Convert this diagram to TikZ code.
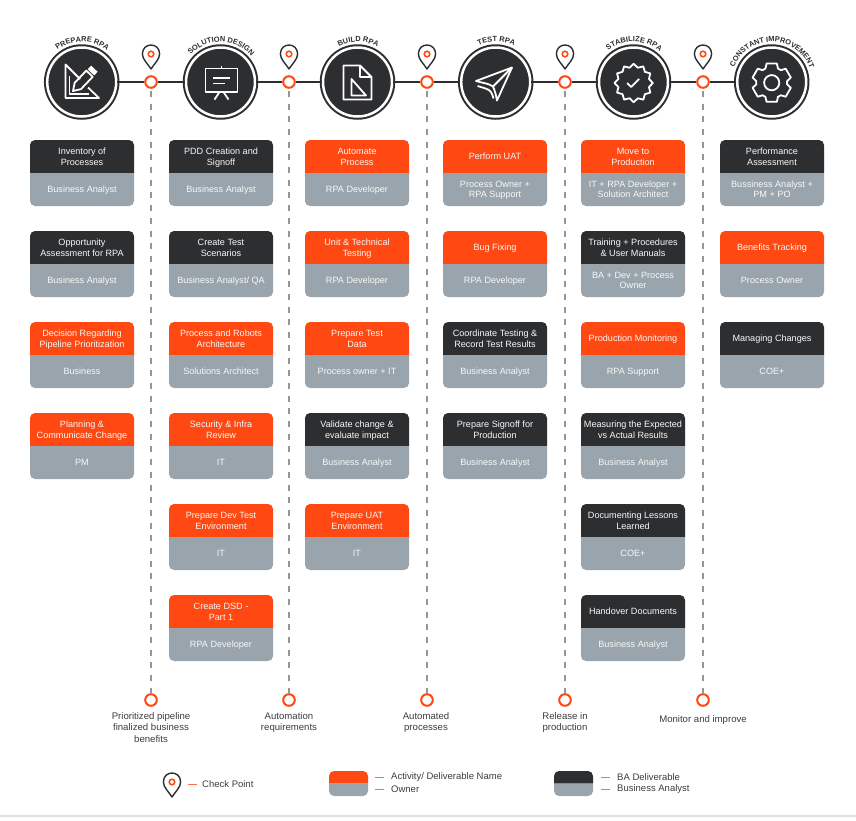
\documentclass[tikz,border=0pt]{standalone}
\usepackage{fontspec}
\setmainfont{Liberation Sans}
\usepackage{xcolor}
\usetikzlibrary{positioning,decorations.text}
\definecolor{darkbox}{RGB}{45, 46, 48}
\definecolor{accent}{RGB}{255, 72, 18}
\definecolor{ownerbox}{RGB}{153, 164, 172}
\definecolor{inktext}{RGB}{60, 60, 62}
\definecolor{tickline}{RGB}{255, 110, 72}
\definecolor{dashgray}{RGB}{150, 150, 150}

\tikzset{
    stepcircle/.style={circle, fill=darkbox, draw=darkbox, double=white, double distance=2.5pt, line width=2pt, minimum size=69pt, inner sep=0pt},
    checkcircle/.style={circle, fill=white, draw=accent, line width=2pt, minimum size=11.6pt, inner sep=0pt},
    stepline/.style={draw=darkbox, line width=2pt},
    dashline/.style={draw=dashgray, line width=1.2pt, dash pattern=on 6pt off 6.7pt},
    cardtext/.style={text=white!93!ownerbox, align=center, inner sep=0pt, font=\fontsize{9.1}{10.9}\selectfont},
    outtext/.style={text=inktext, align=center, inner sep=0pt, font=\fontsize{9.6}{11.2}\selectfont},
    legendtext/.style={text=inktext, anchor=west, inner sep=0pt, font=\fontsize{9.5}{11}\selectfont},
    legendtick/.style={draw=tickline, line width=1.4pt},
    iconline/.style={draw=white, line width=1.8pt, line join=round, fill=none},
    pinline/.style={draw=darkbox, line width=1.4pt, fill=white, line join=round},
    pinring/.style={draw=accent, line width=1.5pt}
}

% card: name, x, top y, head colour, title, owner
\newcommand{\stepcard}[6]{
    \fill[#4, rounded corners=5pt] (#2-52,#3+33) -- (#2-52,#3) -- (#2+52,#3) -- (#2+52,#3+33);
    \fill[ownerbox, rounded corners=5pt] (#2-52,#3+33) -- (#2-52,#3+66) -- (#2+52,#3+66) -- (#2+52,#3+33);
    \node[cardtext] (#1head) at (#2,#3+17.5) {\strut #5\strut};
    \node[cardtext] (#1owner) at (#2,#3+50.3) {\strut #6\strut};
}
% check point pin: x, y of the head
\newcommand{\checkpin}[2]{
    \draw[pinline] (#1,#2+15) .. controls (#1-3,#2+10) and (#1-8.6,#2+5.5) .. (#1-8.6,#2)
        .. controls (#1-8.6,#2-12) and (#1+8.6,#2-12) .. (#1+8.6,#2)
        .. controls (#1+8.6,#2+5.5) and (#1+3,#2+10) .. cycle;
    \draw[pinring] (#1,#2) circle (2.8);
}
% title on the arc over a step circle
\newcommand{\steptitle}[2]{
    \path[decorate, decoration={text along path, text align=center,
        text={|\fontsize{7.4}{8}\selectfont\bfseries\color{darkbox}|#2}}]
        ([shift={(174:40.3pt)}]#1.center) arc[start angle=174, end angle=4, radius=40.3pt];
}
% legend card: x, top y, head colour
\newcommand{\legendcard}[3]{
    \fill[#3, rounded corners=5pt] (#1,#2+12.5) -- (#1,#2) -- (#1+39,#2) -- (#1+39,#2+12.5);
    \fill[ownerbox, rounded corners=5pt] (#1,#2+12.5) -- (#1,#2+25) -- (#1+39,#2+25) -- (#1+39,#2+12.5);
}

\begin{document}
\begin{tikzpicture}[x=1pt, y=-1pt]
    \useasboundingbox (0,0) rectangle (856,820);

    % Step circles and check points
    \node[stepcircle] (prepare) at (81.7,82) {};
    \node[stepcircle] (solution) at (220.5,82) {};
    \node[stepcircle] (build) at (357.5,82) {};
    \node[stepcircle] (test) at (495.7,82) {};
    \node[stepcircle] (stabilize) at (633.5,82) {};
    \node[stepcircle] (improve) at (771.7,82) {};

    \node[checkcircle] (check1) at (151,82) {};
    \node[checkcircle] (check2) at (289,82) {};
    \node[checkcircle] (check3) at (427,82) {};
    \node[checkcircle] (check4) at (565,82) {};
    \node[checkcircle] (check5) at (703,82) {};

    \node[checkcircle] (out1) at (151,700) {};
    \node[checkcircle] (out2) at (289,700) {};
    \node[checkcircle] (out3) at (427,700) {};
    \node[checkcircle] (out4) at (565,700) {};
    \node[checkcircle] (out5) at (703,700) {};

    % Connecting lines
    \draw[stepline] (prepare) -- (check1);
    \draw[stepline] (check1) -- (solution);
    \draw[stepline] (solution) -- (check2);
    \draw[stepline] (check2) -- (build);
    \draw[stepline] (build) -- (check3);
    \draw[stepline] (check3) -- (test);
    \draw[stepline] (test) -- (check4);
    \draw[stepline] (check4) -- (stabilize);
    \draw[stepline] (stabilize) -- (check5);
    \draw[stepline] (check5) -- (improve);

    \draw[dashline] ([yshift=-2pt]check1.south) -- (out1);
    \draw[dashline] ([yshift=-2pt]check2.south) -- (out2);
    \draw[dashline] ([yshift=-2pt]check3.south) -- (out3);
    \draw[dashline] ([yshift=-2pt]check4.south) -- (out4);
    \draw[dashline] ([yshift=-2pt]check5.south) -- (out5);

    % Pins
    \checkpin{151}{54}
    \checkpin{289}{54}
    \checkpin{427}{54}
    \checkpin{565}{54}
    \checkpin{703}{54}

    % Titles
    \steptitle{prepare}{PREPARE RPA}
    \steptitle{solution}{SOLUTION DESIGN}
    \steptitle{build}{BUILD RPA}
    \steptitle{test}{TEST RPA}
    \steptitle{stabilize}{STABILIZE RPA}
    \steptitle{improve}{CONSTANT IMPROVEMENT}

    % Icon: triangle and pencil
    \draw[iconline] (80,79) -- (65.5,64.5) -- (65.5,98) -- (99,98) -- (88,87.5);
    \draw[iconline] (69.5,76) -- (69.5,94) -- (89,94);
    \draw[iconline] (73,91) -- (74.6,82.9) -- (86.3,70.6) -- (92.7,76.8) -- (81,89.1) -- cycle;
    \fill[white] (94.2,75.4) -- (87.8,69.2) -- (91.2,65.6) -- (97.6,71.8) -- cycle;

    % Icon: board
    \draw[iconline] (205.5,68.5) rectangle (237.5,92);
    \draw[iconline] (221.5,68) -- (221.5,65.5);
    \draw[iconline] (213,78) -- (230,78);
    \draw[iconline] (213,83.5) -- (225,83.5);
    \draw[iconline] (219.5,92) -- (214.5,99.5);
    \draw[iconline] (223.5,92) -- (228.5,99.5);

    % Icon: page
    \draw[iconline] (360,65.5) -- (343.5,65.5) -- (343.5,99.5) -- (371.5,99.5) -- (371.5,77) -- cycle;
    \draw[iconline] (360,65.5) -- (360,77) -- (371.5,77);
    \draw[iconline] (351.5,79) -- (351.5,95.5) -- (366,95.5) -- cycle;

    % Icon: plane
    \draw[iconline] (512,67.5) -- (476,81) .. controls (482,83) and (488,83) .. (493,86.5) -- cycle;
    \draw[iconline] (512,67.5) -- (497,100.5) .. controls (496,95) and (495,91) .. (493,86.5);
    \draw[iconline] (477.5,86) .. controls (484,88) and (489,89) .. (491,92) .. controls (492,94) and (493,96) .. (493.5,98.5);

    % Icon: badge
    \begin{scope}[shift={(633.7,83)}]
        \draw[iconline] (-15:15.8) \foreach \a in {0,30,...,330} { -- (\a:19.2) -- (\a+15:15.8) } -- cycle;
        \draw[iconline] (-6.5,0) -- (-2.5,4) -- (5.5,-4);
    \end{scope}

    % Icon: gear
    \begin{scope}[shift={(771.7,82.7)}]
        \draw[iconline] (68:15.5) \foreach \a in {90,150,...,390} { -- (\a-24:15.5) -- (\a-15:19.8) -- (\a+15:19.8) -- (\a+24:15.5) } -- cycle;
        \draw[iconline] (0,0) circle (7.6);
    \end{scope}

    % Prepare RPA
    \stepcard{a1}{82}{140}{darkbox}{Inventory of\\Processes}{Business Analyst}
    \stepcard{a2}{82}{231}{darkbox}{Opportunity\\Assessment for RPA}{Business Analyst}
    \stepcard{a3}{82}{322}{accent}{Decision Regarding\\Pipeline Prioritization}{Business}
    \stepcard{a4}{82}{413}{accent}{Planning \&\\Communicate Change}{PM}

    % Solution design
    \stepcard{b1}{221}{140}{darkbox}{PDD Creation and\\Signoff}{Business Analyst}
    \stepcard{b2}{221}{231}{darkbox}{Create Test\\Scenarios}{Business Analyst/ QA}
    \stepcard{b3}{221}{322}{accent}{Process and Robots\\Architecture}{Solutions Architect}
    \stepcard{b4}{221}{413}{accent}{Security \& Infra\\Review}{IT}
    \stepcard{b5}{221}{504}{accent}{Prepare Dev Test\\Environment}{IT}
    \stepcard{b6}{221}{595}{accent}{Create DSD -\\Part 1}{RPA Developer}

    % Build RPA
    \stepcard{c1}{357}{140}{accent}{Automate\\Process}{RPA Developer}
    \stepcard{c2}{357}{231}{accent}{Unit \& Technical\\Testing}{RPA Developer}
    \stepcard{c3}{357}{322}{accent}{Prepare Test\\Data}{Process owner + IT}
    \stepcard{c4}{357}{413}{darkbox}{Validate change \&\\evaluate impact}{Business Analyst}
    \stepcard{c5}{357}{504}{accent}{Prepare UAT\\Environment}{IT}

    % Test RPA
    \stepcard{d1}{495}{140}{accent}{Perform UAT}{Process Owner +\\RPA Support}
    \stepcard{d2}{495}{231}{accent}{Bug Fixing}{RPA Developer}
    \stepcard{d3}{495}{322}{darkbox}{Coordinate Testing \&\\Record Test Results}{Business Analyst}
    \stepcard{d4}{495}{413}{darkbox}{Prepare Signoff for\\Production}{Business Analyst}

    % Stabilize RPA
    \stepcard{e1}{633}{140}{accent}{Move to\\Production}{IT + RPA Developer +\\Solution Architect}
    \stepcard{e2}{633}{231}{darkbox}{Training + Procedures\\\& User Manuals}{BA + Dev + Process\\Owner}
    \stepcard{e3}{633}{322}{accent}{Production Monitoring}{RPA Support}
    \stepcard{e4}{633}{413}{darkbox}{Measuring the Expected\\vs Actual Results}{Business Analyst}
    \stepcard{e5}{633}{504}{darkbox}{Documenting Lessons\\Learned}{COE+}
    \stepcard{e6}{633}{595}{darkbox}{Handover Documents}{Business Analyst}

    % Constant improvement
    \stepcard{f1}{772}{140}{darkbox}{Performance\\Assessment}{Bussiness Analyst +\\PM + PO}
    \stepcard{f2}{772}{231}{accent}{Benefits Tracking}{Process Owner}
    \stepcard{f3}{772}{322}{darkbox}{Managing Changes}{COE+}

    % Outcomes
    \node[outtext, anchor=north] (outtext1) at (151,712.5) {Prioritized pipeline\\finalized business\\benefits};
    \node[outtext, anchor=north] (outtext2) at (289,712.5) {Automation\\requirements};
    \node[outtext, anchor=north] (outtext3) at (426,712.5) {Automated\\processes};
    \node[outtext, anchor=north] (outtext4) at (565,712.5) {Release in\\production};
    \node[outtext, anchor=north] (outtext5) at (703,715.5) {Monitor and improve};

    % Legend
    \checkpin{172}{782}
    \node[legendtext] (legcheck) at (202,784.5) {Check Point};
    \draw[legendtick] ([xshift=-5pt]legcheck.west) -- ++(-9,0);

    \legendcard{329}{771}{accent}
    \node[legendtext] (legname) at (391,777.5) {Activity/ Deliverable Name};
    \node[legendtext] (legowner) at (391,789.5) {Owner};
    \draw[legendtick] ([xshift=-7pt]legname.west) -- ++(-9,0);
    \draw[legendtick] ([xshift=-7pt]legowner.west) -- ++(-9,0);

    \legendcard{554}{771}{darkbox}
    \node[legendtext] (legba) at (617,777.5) {BA Deliverable};
    \node[legendtext] (legbiz) at (617,789.5) {Business Analyst};
    \draw[legendtick] ([xshift=-7pt]legba.west) -- ++(-9,0);
    \draw[legendtick] ([xshift=-7pt]legbiz.west) -- ++(-9,0);

    % Bottom rule
    \draw[draw=black!12, line width=1.2pt] (0,816) -- (856,816);
\end{tikzpicture}
\end{document}
